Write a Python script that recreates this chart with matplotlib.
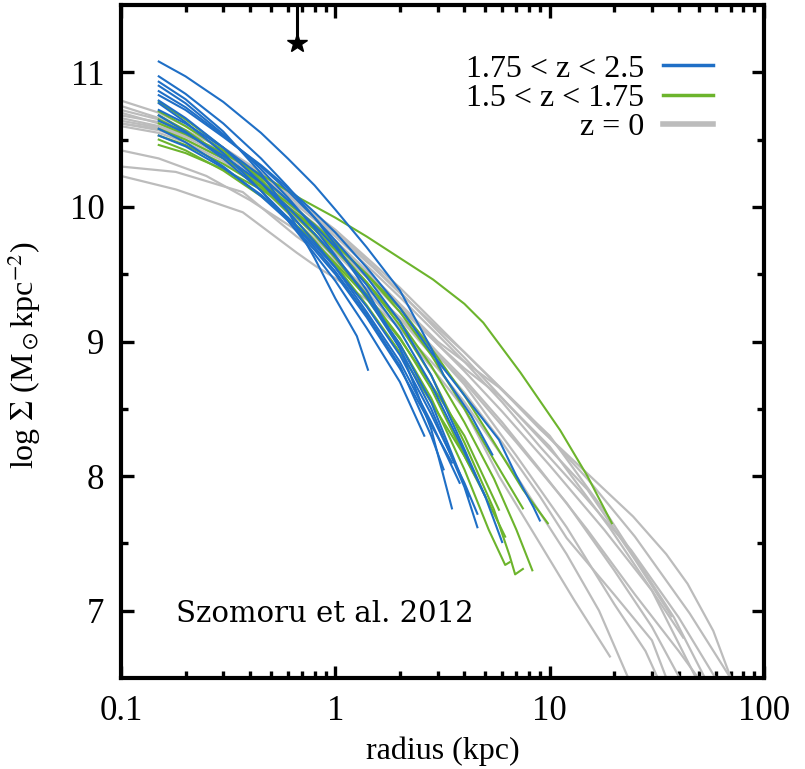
import numpy as np
import matplotlib.pyplot as plt
from matplotlib.ticker import FixedLocator, NullFormatter

plt.rcParams['font.family'] = ['Liberation Serif', 'DejaVu Serif']
plt.rcParams['mathtext.fontset'] = 'stix'

# mass surface density profiles, (radius kpc, log Sigma) pairs
blue_profiles = [
    [(0.15, 11.08), (0.2, 10.97), (0.3, 10.78), (0.45, 10.55), (0.6, 10.36), (0.8, 10.16), (1.0, 9.98),
     (1.4, 9.7), (2.0, 9.38), (2.8, 8.95), (3.2, 8.75), (4.3, 8.45), (5.4, 8.16)],
    [(0.15, 10.97), (0.2, 10.84), (0.3, 10.62), (0.45, 10.36), (0.6, 10.15), (0.8, 9.92), (1.0, 9.72),
     (1.4, 9.38), (2.0, 8.95), (2.8, 8.35), (3.5, 7.76)],
    [(0.15, 10.93), (0.2, 10.8), (0.3, 10.56), (0.45, 10.25), (0.6, 9.97), (0.8, 9.62), (1.0, 9.32),
     (1.26, 9.04), (1.42, 8.79)],
    [(0.15, 10.90), (0.2, 10.77), (0.3, 10.54), (0.45, 10.28), (0.6, 10.07), (0.8, 9.84), (1.0, 9.64),
     (1.4, 9.33), (2.0, 8.95), (2.8, 8.5), (4.0, 7.92), (4.6, 7.62)],
    [(0.15, 10.86), (0.2, 10.74), (0.3, 10.53), (0.45, 10.3), (0.6, 10.12), (0.8, 9.92), (1.0, 9.75),
     (1.4, 9.48), (2.0, 9.15), (2.8, 8.75), (4.0, 8.2), (5.0, 7.85), (6.0, 7.51)],
    [(0.15, 10.83), (0.2, 10.72), (0.3, 10.52), (0.45, 10.31), (0.6, 10.14), (0.8, 9.96), (1.0, 9.81),
     (1.4, 9.55), (2.0, 9.25), (2.8, 8.92), (4.0, 8.6), (5.8, 8.27), (7.0, 8.0), (8.4, 7.77), (9.0, 7.67)],
    [(0.15, 10.79), (0.2, 10.66), (0.3, 10.44), (0.45, 10.18), (0.6, 9.97), (0.8, 9.74), (1.0, 9.55),
     (1.4, 9.22), (2.0, 8.85), (2.8, 8.4), (3.8, 7.95)],
    [(0.15, 10.77), (0.2, 10.63), (0.3, 10.4), (0.45, 10.12), (0.6, 9.9), (0.8, 9.65), (1.0, 9.45),
     (1.4, 9.1), (2.0, 8.7), (2.6, 8.3)],
    [(0.15, 10.72), (0.2, 10.62), (0.3, 10.44), (0.45, 10.23), (0.6, 10.05), (0.8, 9.86), (1.0, 9.7),
     (1.4, 9.42), (2.0, 9.08), (2.8, 8.68), (4.0, 8.18), (5.0, 7.85)],
    [(0.15, 10.68), (0.2, 10.56), (0.3, 10.36), (0.45, 10.12), (0.6, 9.92), (0.8, 9.7), (1.0, 9.52),
     (1.4, 9.2), (2.0, 8.82), (2.8, 8.3), (3.2, 8.05)],
    [(0.15, 10.64), (0.2, 10.55), (0.3, 10.38), (0.45, 10.18), (0.6, 10.0), (0.8, 9.8), (1.0, 9.63),
     (1.4, 9.34), (2.0, 8.98), (2.8, 8.55), (4.2, 7.85)],
    [(0.15, 10.58), (0.2, 10.48), (0.3, 10.3), (0.45, 10.08), (0.6, 9.9), (0.8, 9.68), (1.0, 9.5),
     (1.4, 9.18), (2.0, 8.8), (2.8, 8.38), (3.5, 8.1)],
    [(0.15, 10.53), (0.2, 10.45), (0.3, 10.29), (0.45, 10.09), (0.6, 9.92), (0.8, 9.72), (1.0, 9.55),
     (1.4, 9.26), (2.0, 8.9), (2.8, 8.46), (4.0, 7.95), (4.6, 7.72)],
]

green_profiles = [
    [(0.15, 10.62), (0.2, 10.54), (0.3, 10.40), (0.45, 10.24), (0.69, 10.06), (1.0, 9.92), (1.4, 9.78),
     (2.0, 9.62), (2.86, 9.46), (4.0, 9.28), (4.9, 9.14), (7.3, 8.77), (11.2, 8.34), (15.0, 8.0), (19.5, 7.65)],
    [(0.15, 10.78), (0.2, 10.65), (0.3, 10.44), (0.45, 10.2), (0.6, 10.0), (0.8, 9.8), (1.0, 9.62),
     (1.4, 9.32), (2.0, 8.98), (2.8, 8.58), (4.0, 8.05), (5.2, 7.6), (6.2, 7.34), (6.5, 7.36)],
    [(0.15, 10.71), (0.2, 10.6), (0.3, 10.42), (0.45, 10.22), (0.6, 10.05), (0.8, 9.86), (1.0, 9.7),
     (1.4, 9.44), (2.0, 9.12), (2.8, 8.75), (4.0, 8.25), (5.5, 7.75), (6.5, 7.41), (6.9, 7.27), (7.5, 7.31)],
    [(0.15, 10.53), (0.2, 10.46), (0.3, 10.32), (0.45, 10.15), (0.6, 10.0), (0.8, 9.83), (1.0, 9.68),
     (1.4, 9.44), (2.0, 9.15), (2.8, 8.82), (4.0, 8.4), (5.5, 7.98), (7.0, 7.6), (8.3, 7.30)],
    [(0.15, 10.46), (0.2, 10.4), (0.3, 10.28), (0.45, 10.13), (0.6, 10.0), (0.8, 9.85), (1.0, 9.72),
     (1.4, 9.5), (2.0, 9.25), (2.8, 8.95), (4.0, 8.6), (5.5, 8.25), (7.5, 7.9), (9.8, 7.65)],
    [(0.15, 10.68), (0.2, 10.57), (0.3, 10.38), (0.45, 10.15), (0.6, 9.96), (0.8, 9.75), (1.0, 9.57),
     (1.4, 9.27), (2.0, 8.92), (2.8, 8.55), (4.0, 8.15), (4.5, 8.0)],
    [(0.15, 10.58), (0.2, 10.5), (0.3, 10.36), (0.45, 10.18), (0.6, 10.03), (0.8, 9.87), (1.0, 9.73),
     (1.4, 9.5), (2.0, 9.22), (2.8, 8.9), (4.0, 8.5), (5.5, 8.12), (7.5, 7.76)],
    [(0.15, 10.50), (0.2, 10.42), (0.3, 10.27), (0.45, 10.08), (0.6, 9.92), (0.8, 9.74), (1.0, 9.58),
     (1.4, 9.33), (2.0, 9.02), (2.8, 8.68), (4.0, 8.3), (5.8, 7.75)],
    [(0.15, 10.65), (0.2, 10.55), (0.3, 10.38), (0.45, 10.17), (0.6, 9.99), (0.8, 9.79), (1.0, 9.62),
     (1.4, 9.35), (2.0, 9.03), (2.8, 8.65), (4.0, 8.15), (5.2, 7.8), (6.2, 7.55)],
]

gray_profiles = [
    [(0.1, 10.62), (0.15, 10.58), (0.2, 10.52), (0.3, 10.42), (0.45, 10.25), (0.7, 10.02), (1, 9.83), (1.5, 9.58),
     (2, 9.4), (3, 9.12), (4, 8.92), (6, 8.64), (9, 8.35), (14.3, 8.05), (24.5, 7.7), (35, 7.42), (44, 7.2),
     (58, 6.85), (72, 6.45)],
    [(0.1, 10.66), (0.15, 10.6), (0.2, 10.53), (0.3, 10.4), (0.45, 10.22), (0.7, 9.98), (1, 9.78), (1.5, 9.52),
     (2, 9.33), (3, 9.05), (4, 8.85), (6, 8.55), (9, 8.22), (14, 7.88), (24, 7.45), (40, 6.95), (62, 6.45)],
    [(0.1, 10.70), (0.15, 10.62), (0.2, 10.54), (0.3, 10.4), (0.45, 10.2), (0.7, 9.95), (1, 9.75), (1.5, 9.48),
     (2, 9.28), (3, 9.0), (4, 8.85), (5.8, 8.66), (10, 8.3), (19, 7.69), (38, 6.95), (55, 6.45)],
    [(0.1, 10.64), (0.15, 10.59), (0.2, 10.52), (0.3, 10.38), (0.45, 10.18), (0.7, 9.93), (1, 9.72), (1.5, 9.45),
     (2, 9.25), (3, 8.98), (4, 8.8), (5.8, 8.6), (10, 8.22), (19, 7.62), (30, 7.15), (50, 6.45)],
    [(0.1, 10.75), (0.15, 10.66), (0.2, 10.56), (0.3, 10.38), (0.45, 10.15), (0.7, 9.85), (1, 9.62), (1.5, 9.32),
     (2, 9.1), (3, 8.75), (4, 8.5), (5.8, 8.0), (9, 7.5), (13, 7.08), (19.1, 6.66)],
    [(0.1, 10.60), (0.15, 10.55), (0.2, 10.48), (0.3, 10.34), (0.45, 10.14), (0.7, 9.88), (1, 9.66), (1.5, 9.38),
     (2, 9.17), (3, 8.85), (4, 8.62), (6, 8.25), (9, 7.85), (12, 7.54), (20, 7.12), (30, 6.78), (36, 6.45)],
    [(0.1, 10.79), (0.15, 10.7), (0.2, 10.6), (0.3, 10.42), (0.45, 10.2), (0.7, 9.92), (1, 9.7), (1.5, 9.43),
     (2, 9.22), (3, 8.92), (4, 8.72), (6, 8.4), (9, 8.05), (15, 7.6), (25, 7.12), (40, 6.7), (52, 6.45)],
    [(0.1, 10.42), (0.15, 10.36), (0.25, 10.23), (0.4, 10.05), (0.7, 9.8), (1, 9.6), (1.5, 9.35), (2, 9.17),
     (3, 8.9), (4, 8.7), (7, 8.25), (12, 7.8), (20, 7.3), (30, 6.88), (42, 6.45)],
    [(0.1, 10.30), (0.18, 10.26), (0.37, 10.11), (0.66, 9.78), (1, 9.58), (1.5, 9.35), (2, 9.18), (3, 8.9),
     (4, 8.68), (7, 8.15), (12, 7.62), (20, 7.05), (28, 6.7), (33, 6.45)],
    [(0.1, 10.23), (0.18, 10.13), (0.37, 9.96), (0.66, 9.66), (0.81, 9.56), (1, 9.47), (1.5, 9.28), (2, 9.1),
     (3, 8.8), (4, 8.55), (7, 8.0), (12, 7.42), (17, 7.0), (24, 6.45)],
    [(0.1, 10.68), (0.15, 10.63), (0.2, 10.56), (0.3, 10.44), (0.45, 10.26), (0.7, 10.02), (1, 9.82), (1.5, 9.56),
     (2, 9.37), (3, 9.08), (4, 8.88), (6, 8.58), (10, 8.2), (15, 7.9), (25, 7.38), (37, 6.96)],
    [(0.1, 10.62), (0.15, 10.57), (0.2, 10.5), (0.3, 10.36), (0.45, 10.17), (0.7, 9.92), (1, 9.72), (1.5, 9.46),
     (2, 9.27), (3, 8.98), (4, 8.78), (6, 8.48), (10, 8.08), (18, 7.6), (30, 7.15), (42, 6.80)],
    [(0.1, 10.72), (0.15, 10.65), (0.2, 10.57), (0.3, 10.43), (0.45, 10.24), (0.7, 10.0), (1, 9.8), (1.5, 9.55),
     (2, 9.36), (3, 9.1), (4, 8.92), (8, 8.45), (15, 7.98), (25, 7.55), (45, 6.98), (73, 6.45)],
]

labels = ['1.75 < z < 2.5', '1.5 < z < 1.75', 'z = 0']
colors = ['#1f6fc6', '#6cb42c', '#bcbcbc']
star_r, star_logS = 0.665, 11.22

fig = plt.figure(figsize=(8.05, 7.69), dpi=100)
ax = fig.add_axes([121 / 805, 1 - 678 / 769, 643 / 805, 673 / 769])

for prof in gray_profiles:
    r, s = zip(*prof)
    ax.plot(r, s, color=colors[2], lw=1.6, solid_joinstyle='round')
for prof in green_profiles:
    r, s = zip(*prof)
    ax.plot(r, s, color=colors[1], lw=1.5, solid_joinstyle='round')
for prof in blue_profiles:
    r, s = zip(*prof)
    ax.plot(r, s, color=colors[0], lw=1.5, solid_joinstyle='round')

# star with a line up to the top axis
ax.plot([star_r, star_r], [star_logS, 11.5], color='black', lw=2.2, clip_on=False)
ax.plot(star_r, star_logS, marker='*', ms=15, color='black', mec='black')

ax.set_xscale('log')
ax.set_xlim(0.1, 100)
ax.set_ylim(6.5, 11.5)
ax.xaxis.set_major_locator(FixedLocator([0.1, 1, 10, 100]))
ax.set_xticklabels(['0.1', '1', '10', '100'])
minor_x = [m * 10.0 ** e for e in (-1, 0, 1) for m in range(2, 10)]
ax.xaxis.set_minor_locator(FixedLocator(minor_x))
ax.xaxis.set_minor_formatter(NullFormatter())
ax.yaxis.set_major_locator(FixedLocator([7, 8, 9, 10, 11]))
ax.yaxis.set_minor_locator(FixedLocator([7.5, 8.5, 9.5, 10.5]))

ax.tick_params(which='both', direction='in', top=True, right=True, width=2.4, labelsize=25)
ax.tick_params(which='major', length=9, pad=12)
ax.tick_params(which='minor', length=5)
for sp in ax.spines.values():
    sp.set_linewidth(3)

ax.set_xlabel('radius (kpc)', fontsize=23, labelpad=6)
ax.set_ylabel(r'log $\Sigma$ (M$_\odot$kpc$^{-2}$)', fontsize=23)
ax.yaxis.set_label_coords(-0.122, 0.48)

handles = [plt.Line2D([], [], color=colors[0], lw=2.5),
           plt.Line2D([], [], color=colors[1], lw=2.5),
           plt.Line2D([], [], color=colors[2], lw=4)]
ax.legend(handles, labels, loc='upper right', bbox_to_anchor=(0.955, 0.96), frameon=False,
          markerfirst=False, fontsize=23, handlelength=1.55, handletextpad=0.6,
          labelspacing=0.0, borderpad=0.2)

ax.text(0.085, 0.095, 'Szomoru et al. 2012', transform=ax.transAxes, fontsize=21,
        family='DejaVu Serif', va='center', ha='left')

fig.savefig('out.png', dpi=100)
